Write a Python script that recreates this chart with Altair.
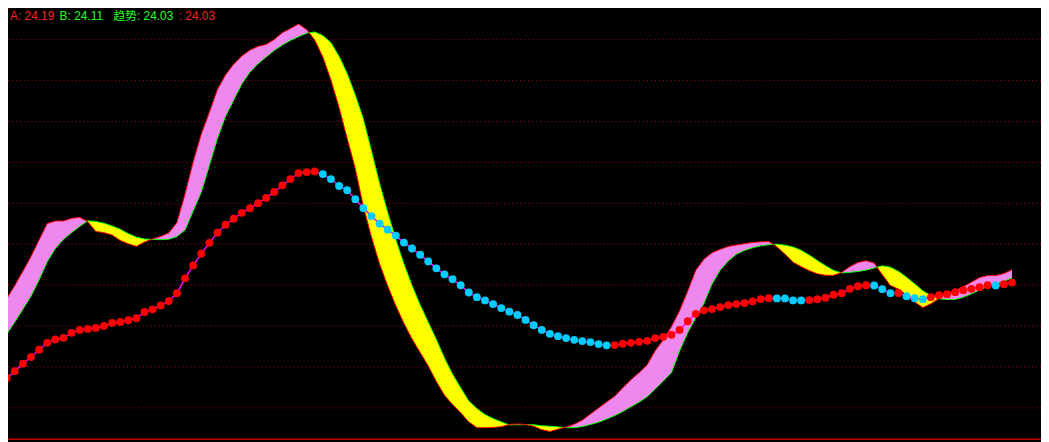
import altair as alt
import pandas as pd

# ---- data (price units) ----
trend = [22.993, 23.067, 23.137, 23.213, 23.280, 23.353, 23.423, 23.457, 23.473, 23.523,
         23.553, 23.563, 23.573, 23.593, 23.623, 23.633, 23.650, 23.670, 23.733, 23.760,
         23.800, 23.843, 23.923, 24.073, 24.203, 24.320, 24.430, 24.533, 24.613, 24.673,
         24.733, 24.780, 24.830, 24.883, 24.943, 25.010, 25.073, 25.133, 25.143, 25.150,
         25.123, 25.073, 25.003, 24.960, 24.870, 24.780, 24.700, 24.623, 24.563, 24.503,
         24.433, 24.373, 24.310, 24.243, 24.173, 24.113, 24.063, 24.003, 23.930, 23.883,
         23.850, 23.813, 23.773, 23.737, 23.703, 23.653, 23.600, 23.553, 23.513, 23.490,
         23.470, 23.453, 23.440, 23.430, 23.410, 23.397, 23.400, 23.413, 23.423, 23.433,
         23.443, 23.470, 23.483, 23.503, 23.553, 23.640, 23.715, 23.750, 23.763, 23.783,
         23.803, 23.813, 23.823, 23.840, 23.863, 23.873, 23.870, 23.870, 23.850, 23.850,
         23.853, 23.863, 23.877, 23.907, 23.923, 23.967, 23.993, 24.003, 24.000, 23.963,
         23.923, 23.925, 23.893, 23.873, 23.863, 23.883, 23.903, 23.913, 23.933, 23.953,
         23.967, 23.983, 24.003, 24.000, 24.013, 24.030]

trend_state = ("RRRRRRRRRRRRRRRRRRRRRRRRRRRRRRRRRRRRRRRR"
               "CCCCCCCCCCCCCCCCCCCCCCCCCCCCCCCCCCCC"
               "RRRRRRRRRRRRRRRRRRRR"
               "CCCC" "RRRRRRRR" "CCC" "R" "CCC" "RRRRRRRR" "C" "RR")

line_a = [23.740, 23.868, 24.000, 24.144, 24.292, 24.460, 24.624, 24.650, 24.650, 24.677,
          24.687, 24.643, 24.545, 24.533, 24.510, 24.455, 24.420, 24.395, 24.438, 24.470,
          24.495, 24.530, 24.635, 24.920, 25.244, 25.525, 25.745, 25.976, 26.123, 26.231,
          26.313, 26.372, 26.410, 26.430, 26.480, 26.548, 26.590, 26.635, 26.579, 26.474,
          26.303, 26.072, 25.795, 25.483, 25.180, 24.795, 24.488, 24.217, 23.997, 23.797,
          23.619, 23.462, 23.326, 23.190, 23.033, 22.895, 22.801, 22.717, 22.626, 22.567,
          22.567, 22.570, 22.578, 22.600, 22.605, 22.600, 22.583, 22.547, 22.529, 22.552,
          22.574, 22.602, 22.643, 22.705, 22.765, 22.826, 22.885, 22.970, 23.050, 23.122,
          23.200, 23.344, 23.454, 23.586, 23.745, 23.943, 24.154, 24.264, 24.330, 24.364,
          24.394, 24.408, 24.422, 24.434, 24.440, 24.443, 24.392, 24.316, 24.235, 24.190,
          24.150, 24.118, 24.103, 24.103, 24.133, 24.190, 24.232, 24.250, 24.226, 24.110,
          24.000, 23.964, 23.904, 23.834, 23.778, 23.816, 23.870, 23.915, 23.947, 23.989,
          24.034, 24.080, 24.100, 24.100, 24.120, 24.159]

line_b = [23.390, 23.510, 23.632, 23.761, 23.892, 24.057, 24.239, 24.373, 24.464, 24.533,
          24.595, 24.652, 24.646, 24.628, 24.600, 24.568, 24.523, 24.488, 24.469, 24.465,
          24.462, 24.467, 24.493, 24.560, 24.750, 24.940, 25.210, 25.483, 25.705, 25.869,
          26.032, 26.150, 26.236, 26.303, 26.368, 26.424, 26.470, 26.508, 26.543, 26.555,
          26.520, 26.447, 26.310, 26.137, 25.921, 25.677, 25.355, 25.028, 24.738, 24.463,
          24.219, 24.000, 23.806, 23.631, 23.457, 23.270, 23.107, 22.969, 22.837, 22.761,
          22.700, 22.659, 22.627, 22.595, 22.598, 22.598, 22.597, 22.587, 22.582, 22.575,
          22.569, 22.567, 22.580, 22.599, 22.622, 22.654, 22.689, 22.731, 22.779, 22.824,
          22.879, 22.957, 23.038, 23.122, 23.340, 23.525, 23.677, 23.819, 24.015, 24.154,
          24.247, 24.316, 24.354, 24.380, 24.400, 24.412, 24.417, 24.407, 24.389, 24.355,
          24.307, 24.252, 24.200, 24.153, 24.127, 24.133, 24.141, 24.155, 24.177, 24.199,
          24.185, 24.143, 24.083, 24.017, 23.947, 23.900, 23.866, 23.860, 23.860, 23.883,
          23.916, 23.955, 23.991, 24.015, 24.042, 24.076]

grid_levels = [26.477, 26.065, 25.653, 25.241, 24.828, 24.416, 24.004, 23.592, 23.180, 22.767]
frame_levels = [26.84, 22.45]

label_texts = ["A: 24.19", "B: 24.11", "趋势: 24.03", ": 24.03"]
label_colors = ["#FF2020", "#20FF20", "#20FF20", "#FF2020"]
label_x = [2, 52, 106, 172]

# ---- styling ----
W, H = 1041, 434
BG = "#000000"
PINK = "#EE88EE"
YELLOW = "#FFFF00"

n = len(trend)
idx = list(range(n))

xs = alt.Scale(domain=[1.163, 128.58], nice=False, zero=False)
ys = alt.Scale(domain=[22.44, 26.78], nice=False, zero=False)

# band pieces, split where A and B cross
rows = []
run = 0
cur = "pos" if line_a[0] >= line_b[0] else "neg"
rows.append(dict(i=0, a=line_a[0], b=line_b[0], run=run, side=cur))
for k in range(n - 1):
    d0 = line_a[k] - line_b[k]
    d1 = line_a[k + 1] - line_b[k + 1]
    if (d0 >= 0) != (d1 >= 0):
        t = d0 / (d0 - d1)
        xc = k + t
        yc = line_a[k] + t * (line_a[k + 1] - line_a[k])
        rows.append(dict(i=xc, a=yc, b=yc, run=run, side=cur))
        run += 1
        cur = "pos" if d1 >= 0 else "neg"
        rows.append(dict(i=xc, a=yc, b=yc, run=run, side=cur))
    rows.append(dict(i=k + 1, a=line_a[k + 1], b=line_b[k + 1], run=run, side=cur))
band = pd.DataFrame(rows)

lines = pd.DataFrame({"i": idx, "a": line_a, "b": line_b})
tr = pd.DataFrame({"i": idx, "v": trend, "s": list(trend_state)})
grid = pd.DataFrame({"lv": grid_levels})
frame = pd.DataFrame({"lv": frame_levels})
labels = pd.DataFrame({"t": label_texts, "c": label_colors, "px": label_x})

X = alt.X("i:Q", scale=xs, axis=None)

area = alt.Chart(band).mark_area(clip=True, interpolate="linear").encode(
    x=X,
    y=alt.Y("a:Q", scale=ys, axis=None),
    y2="b:Q",
    color=alt.Color("side:N", scale=alt.Scale(domain=["pos", "neg"], range=[PINK, YELLOW]), legend=None),
    detail="run:N",
)

b_line = alt.Chart(lines).mark_line(clip=True, color="#00FF00", strokeWidth=1).encode(
    x=X, y=alt.Y("b:Q", scale=ys, axis=None))
a_line = alt.Chart(lines).mark_line(clip=True, color="#FF0000", strokeWidth=1).encode(
    x=X, y=alt.Y("a:Q", scale=ys, axis=None))

grid_rules = alt.Chart(grid).mark_rule(color="#B00000", strokeWidth=1, strokeDash=[1, 3]).encode(
    y=alt.Y("lv:Q", scale=ys, axis=None))
frame_rules = alt.Chart(frame).mark_rule(color="#C00000", strokeWidth=1.5, clip=True).encode(
    y=alt.Y("lv:Q", scale=ys, axis=None))

t_line = alt.Chart(tr).mark_line(clip=True, color="#FF00FF", strokeWidth=1.5).encode(
    x=X, y=alt.Y("v:Q", scale=ys, axis=None))
t_pts = alt.Chart(tr).mark_point(clip=True, filled=True, shape="circle", size=62, opacity=1).encode(
    x=X, y=alt.Y("v:Q", scale=ys, axis=None),
    color=alt.Color("s:N", scale=alt.Scale(domain=["R", "C"], range=["#FF0000", "#00CCFF"]), legend=None),
)

txt = alt.Chart(labels).mark_text(
    align="left", baseline="alphabetic", fontSize=12,
    font="Liberation Sans, Noto Sans CJK SC"
).encode(
    x=alt.X("px:Q", scale=None),
    y=alt.value(10),
    text="t:N",
    color=alt.Color("c:N", scale=None),
)

chart = alt.layer(grid_rules, frame_rules, area, b_line, a_line, t_line, t_pts, txt).resolve_scale(
    color="independent"
).properties(
    width=W, height=H, background=BG, padding=0,
    autosize=alt.AutoSizeParams(type="none"),
).configure_view(stroke=None, fill=BG)

chart.save("out.html", embed_options={"renderer": "svg", "actions": False})
